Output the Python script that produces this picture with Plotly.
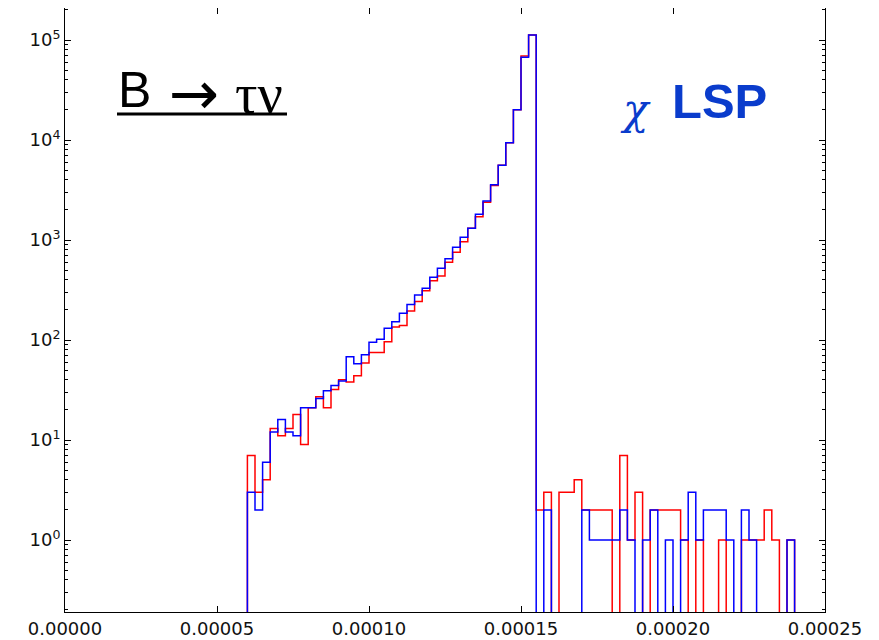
import plotly.graph_objects as go

# ---- data ----
BIN_START = 60e-6
BIN_WIDTH = 2.5e-6

red_counts = [7, 3, 4, 13, 11, 13, 18, 9, 21, 27,
              21, 32, 40, 38, 44, 59, 75, 75, 96, 135,
              140, 195, 242, 311, 392, 437, 598, 753, 962, 1309,
              1711, 2382, 3500, 5580, 9400, 20100, 69200, 112000, 2, 3,
              0, 3, 3, 4, 2, 2, 2, 2, 0, 7,
              1, 3, 0, 2, 2, 2, 2, 1, 0, 1,
              0, 0, 1, 0, 0, 1, 1, 1, 2, 1,
              0, 1]

blue_counts = [3, 2, 6, 12, 16, 12, 11, 21, 21, 26,
               31, 35, 39, 68, 58, 71, 95, 102, 131, 152,
               185, 227, 282, 329, 424, 521, 651, 845, 1064, 1309,
               1807, 2455, 3573, 5582, 9400, 20100, 67100, 112000, 0, 2,
               0, 0, 0, 0, 2, 1, 1, 1, 1, 2,
               1, 0, 1, 2, 0, 1, 0, 1, 3, 1,
               2, 2, 2, 1, 0, 2, 1, 0, 0, 0,
               0, 1]

x_tick_vals = [0.0, 0.00005, 0.00010, 0.00015, 0.00020, 0.00025]
x_tick_text = ["0.00000", "0.00005", "0.00010", "0.00015", "0.00020", "0.00025"]
y_tick_vals = [1, 10, 100, 1000, 10000, 100000]
y_tick_text = ["10<sup>0</sup>", "10<sup>1</sup>", "10<sup>2</sup>",
               "10<sup>3</sup>", "10<sup>4</sup>", "10<sup>5</sup>"]

FLOOR = 1e-3  # empty bins drop below the visible axis, like a step histogram


def step_xy(counts):
    n = len(counts)
    edges = [BIN_START + i * BIN_WIDTH for i in range(n + 1)]
    xs = [edges[0]] + edges[:n] + [edges[n]]
    ys = [FLOOR] + [c if c > 0 else FLOOR for c in counts] + [FLOOR]
    return xs, ys


fig = go.Figure()
for counts, color in [(red_counts, "#ff0000"), (blue_counts, "#0000ff")]:
    xs, ys = step_xy(counts)
    fig.add_trace(go.Scatter(x=xs, y=ys, mode="lines", line_shape="hv",
                             line=dict(color=color, width=1.5),
                             showlegend=False, hoverinfo="skip"))

axis_font = dict(family="DejaVu Sans", size=18, color="#111111")

fig.update_xaxes(range=[0, 0.00025], tickvals=x_tick_vals, ticktext=x_tick_text,
                 showgrid=False, zeroline=False, showline=True, linecolor="black",
                 linewidth=1, mirror="ticks", ticks="inside", ticklen=6,
                 tickcolor="black", tickfont=axis_font)
fig.update_yaxes(type="log", range=[-0.72, 5.32], tickvals=y_tick_vals,
                 ticktext=y_tick_text, showgrid=False, zeroline=False,
                 showline=True, linecolor="black", linewidth=1, mirror="ticks",
                 ticks="inside", ticklen=6, tickcolor="black", tickfont=axis_font,
                 minor=dict(ticks="inside", ticklen=3, tickcolor="black",
                            dtick="D1", showgrid=False))

# plot area in page pixels: left 65, right 825, top 8, bottom 612
L, R, T, B = 65, 825, 8, 612


def px(x):
    return (x - L) / (R - L)


def py(y):
    return 1 - (y - T) / (B - T)


fig.add_annotation(xref="paper", yref="paper", x=px(116), y=py(90),
                   xanchor="left", yanchor="middle", showarrow=False, text="B",
                   font=dict(family="Liberation Sans", size=50, color="black"))
fig.add_annotation(xref="paper", yref="paper", x=px(194), y=py(93),
                   xanchor="center", yanchor="middle", showarrow=False, text="\u2192",
                   font=dict(family="DejaVu Sans", size=60, color="black"))
fig.add_annotation(xref="paper", yref="paper", x=px(259), y=py(94),
                   xanchor="center", yanchor="middle", showarrow=False,
                   text="\u03c4\u03bd",
                   font=dict(family="Liberation Serif", size=56, color="black"))
fig.add_shape(type="line", xref="paper", yref="paper",
              x0=px(117), x1=px(287), y0=py(114), y1=py(114),
              line=dict(color="black", width=3))

fig.add_annotation(xref="paper", yref="paper", x=px(635), y=py(110),
                   xanchor="center", yanchor="middle", showarrow=False,
                   text="<i>\u03c7</i>",
                   font=dict(family="DejaVu Serif", size=42, color="#0a3ccc"))
fig.add_annotation(xref="paper", yref="paper", x=px(670), y=py(101),
                   xanchor="left", yanchor="middle", showarrow=False,
                   text="<b>LSP</b>",
                   font=dict(family="Liberation Sans", size=49, color="#0a3ccc"))

# the page body adds an 8 px margin, so the figure is sized to fill the window
fig.update_layout(width=871, height=632, plot_bgcolor="white", paper_bgcolor="white",
                  margin=dict(l=L - 8, r=871 - (R - 8), t=T - 8, b=632 - (B - 8)))

fig.write_html("out.html")
